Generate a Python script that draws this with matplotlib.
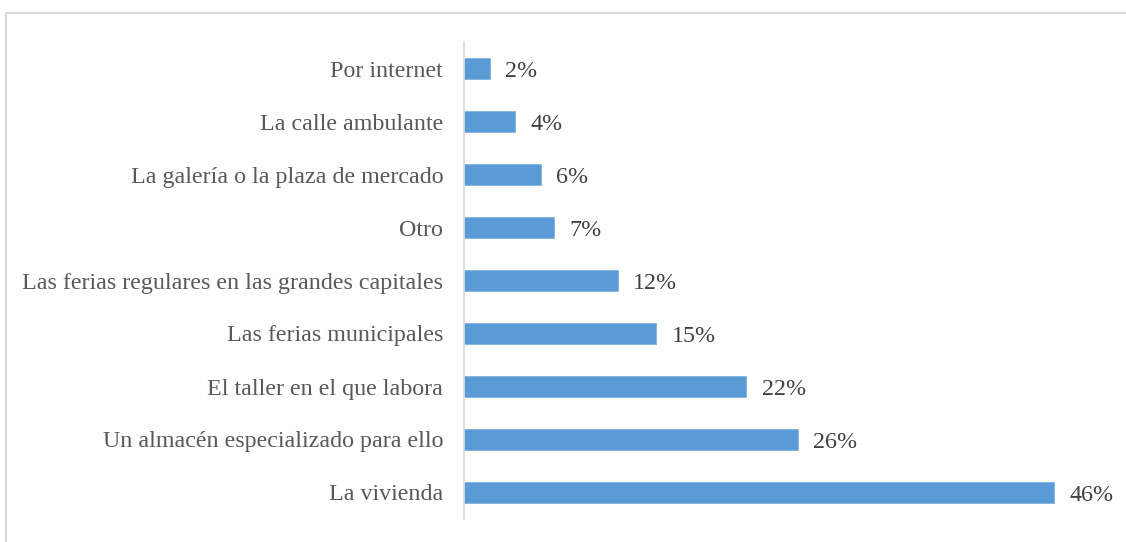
import matplotlib
matplotlib.use("Agg")
import matplotlib.pyplot as plt
from matplotlib.patches import Rectangle

categories = [
    "La vivienda",
    "Un almacén especializado para ello",
    "El taller en el que labora",
    "Las ferias municipales",
    "Las ferias regulares en las grandes capitales",
    "Otro",
    "La galería o la plaza de mercado",
    "La calle ambulante",
    "Por internet",
]
values = [46, 26, 22, 15, 12, 7, 6, 4, 2]
value_labels = ["46%", "26%", "22%", "15%", "12%", "7%", "6%", "4%", "2%"]

bar_color = "#5B9BD5"
text_color = "#595959"
plt.rcParams["font.family"] = ["Liberation Serif", "DejaVu Serif"]

W, H = 1126, 542
fig = plt.figure(figsize=(W / 100, H / 100), dpi=100)

# outer chart frame (runs past the right and bottom edges)
fig.patches.append(Rectangle((6 / W, -0.05), 1.0, (H - 13) / H + 0.05,
                             transform=fig.transFigure, fill=False,
                             edgecolor="#D9D9D9", linewidth=1.5))

ax = fig.add_axes([464 / W, 23 / H, 641.5 / W, 477 / H])
y = list(range(len(categories)))
ax.barh(y, values, height=0.4, color=bar_color, edgecolor="#7FB2E0", linewidth=0.6)
ax.set_xlim(0, 50)
ax.set_ylim(-0.5, len(categories) - 0.5)
ax.set_yticks(y)
ax.set_yticklabels(categories, fontsize=17.3, color=text_color)
ax.tick_params(axis="y", length=0, pad=15)
ax.set_xticks([])
for s in ["top", "right", "bottom"]:
    ax.spines[s].set_visible(False)
ax.spines["left"].set_color("#D9D9D9")
ax.spines["left"].set_linewidth(1.2)

for yi, v, lab in zip(y, values, value_labels):
    ax.annotate(lab, (v, yi), xytext=(11, -2), textcoords="offset points",
                ha="left", va="center", fontsize=17.3, color="#404040")

fig.savefig("out.png", dpi=100, facecolor="white")
